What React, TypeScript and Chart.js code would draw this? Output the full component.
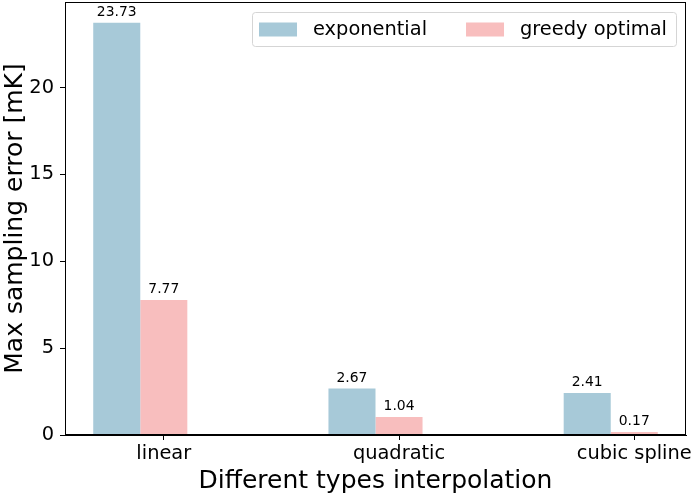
import React, { useEffect, useRef } from "react";
import { Chart, registerables } from "chart.js";

Chart.register(...registerables);

const categories = ["linear", "quadratic", "cubic spline"];
const exponentialValues = [23.73, 2.67, 2.41];
const greedyValues = [7.77, 1.04, 0.17];
const seriesNames = ["exponential", "greedy optimal"];
const yTicks = [0, 5, 10, 15, 20];
// x tick marks sit under the centre of the second bar of each group
const X_TICK_SHIFT = 0.1;

const BLUE = "#a7c9d8";
const PINK = "#f8bebe";
const FONT = "'DejaVu Sans', sans-serif";

const framePlugin = {
  id: "frame",
  afterDatasetsDraw(chart: any) {
    const { ctx, chartArea } = chart;
    ctx.save();
    ctx.strokeStyle = "#000";
    ctx.lineWidth = 1;
    ctx.strokeRect(
      Math.round(chartArea.left) + 0.5,
      Math.round(chartArea.top) + 0.5,
      Math.round(chartArea.right - chartArea.left) - 1,
      Math.round(chartArea.bottom - chartArea.top) - 1
    );
    ctx.restore();
  },
};

const labelPlugin = {
  id: "barLabels",
  afterDatasetsDraw(chart: any) {
    const { ctx } = chart;
    ctx.save();
    ctx.font = `13.9px ${FONT}`;
    ctx.fillStyle = "#000";
    ctx.textAlign = "center";
    ctx.textBaseline = "alphabetic";
    chart.data.datasets.forEach((ds: any, di: number) => {
      const meta = chart.getDatasetMeta(di);
      meta.data.forEach((el: any, i: number) => {
        const v = ds.data[i].y;
        ctx.fillText(v.toFixed(2), el.x, el.y - 7);
      });
    });
    ctx.restore();
  },
};

const legendPlugin = {
  id: "innerLegend",
  afterDraw(chart: any) {
    const { ctx, chartArea } = chart;
    const colors = [BLUE, PINK];
    ctx.save();
    ctx.font = `19.4px ${FONT}`;
    const padL = 7;
    const patchW = 38;
    const patchH = 14;
    const textGap = 16;
    const itemGap = 39;
    const padR = 9;
    const widths = seriesNames.map((n) => ctx.measureText(n).width);
    let total = padL + padR;
    widths.forEach((w, i) => {
      total += patchW + textGap + w;
      if (i < widths.length - 1) total += itemGap;
    });
    const boxH = 34;
    const right = chartArea.right - 10;
    const left = right - total;
    const top = chartArea.top + 10;
    ctx.fillStyle = "rgba(255,255,255,0.8)";
    ctx.strokeStyle = "#d5d5d5";
    ctx.lineWidth = 1;
    ctx.beginPath();
    (ctx as any).roundRect(Math.round(left) + 0.5, top + 0.5, Math.round(total), boxH, 3);
    ctx.fill();
    ctx.stroke();
    let x = left + padL;
    const cy = top + boxH / 2 + 0.5;
    seriesNames.forEach((n, i) => {
      ctx.fillStyle = colors[i];
      ctx.fillRect(x, cy - patchH / 2, patchW, patchH);
      x += patchW + textGap;
      ctx.fillStyle = "#000";
      ctx.textBaseline = "middle";
      ctx.textAlign = "left";
      ctx.fillText(n, x, cy);
      x += widths[i] + itemGap;
    });
    ctx.restore();
  },
};

export default function App() {
  const ref = useRef<HTMLCanvasElement | null>(null);

  useEffect(() => {
    if (!ref.current) return;
    const chart = new Chart(ref.current, {
      type: "bar",
      data: {
        datasets: [
          {
            label: seriesNames[0],
            data: categories.map((_, i) => ({ x: i, y: exponentialValues[i] })),
            backgroundColor: BLUE,
            categoryPercentage: 0.4,
            barPercentage: 1.0,
          },
          {
            label: seriesNames[1],
            data: categories.map((_, i) => ({ x: i, y: greedyValues[i] })),
            backgroundColor: PINK,
            categoryPercentage: 0.4,
            barPercentage: 1.0,
          },
        ],
      },
      options: {
        animation: false,
        responsive: false,
        maintainAspectRatio: false,
        layout: { padding: { top: 2, right: 6, left: 0, bottom: 0 } },
        plugins: {
          legend: { display: false },
          tooltip: { enabled: false },
        },
        scales: {
          x: {
            type: "linear",
            min: -0.32,
            max: 2.32,
            offset: false,
            afterBuildTicks: (scale: any) => {
              scale.ticks = categories.map((_, i) => ({ value: i + X_TICK_SHIFT }));
            },
            afterFit: (scale: any) => {
              scale.height = 59;
              scale.paddingLeft = 0;
              scale.paddingRight = 0;
            },
            ticks: {
              font: { family: FONT, size: 19.4 },
              color: "#000",
              padding: 2,
              maxRotation: 0,
              autoSkip: false,
              callback: (v: any) => categories[Math.round((v as number) - X_TICK_SHIFT)] ?? "",
            },
            grid: {
              offset: false,
              drawOnChartArea: false,
              drawTicks: true,
              tickLength: 5,
              color: "#000",
            },
            border: { display: true, color: "#000" },
            title: {
              display: true,
              text: "Different types interpolation",
              font: { family: FONT, size: 25 },
              color: "#000",
              padding: { top: 0, bottom: -2 },
            },
          },
          y: {
            type: "linear",
            min: 0,
            max: 24.92,
            afterBuildTicks: (scale: any) => {
              scale.ticks = yTicks.map((v) => ({ value: v }));
            },
            afterFit: (scale: any) => {
              scale.width = 65;
              scale.paddingTop = 0;
              scale.paddingBottom = 0;
            },
            ticks: {
              font: { family: FONT, size: 19.4 },
              color: "#000",
              padding: 6,
              includeBounds: false,
            },
            grid: {
              drawOnChartArea: false,
              drawTicks: true,
              tickLength: 5,
              color: "#000",
            },
            border: { display: true, color: "#000" },
            title: {
              display: true,
              text: "Max sampling error [mK]",
              font: { family: FONT, size: 25 },
              color: "#000",
              padding: { top: 0, bottom: 0 },
            },
          },
        },
      } as any,
      plugins: [framePlugin, labelPlugin, legendPlugin],
    });
    return () => chart.destroy();
  }, []);

  return (
    <div style={{ position: "fixed", left: 0, top: 0, width: 692, height: 494, background: "#fff" }}>
      <canvas ref={ref} width={692} height={494} style={{ width: 692, height: 494 }} />
    </div>
  );
}
